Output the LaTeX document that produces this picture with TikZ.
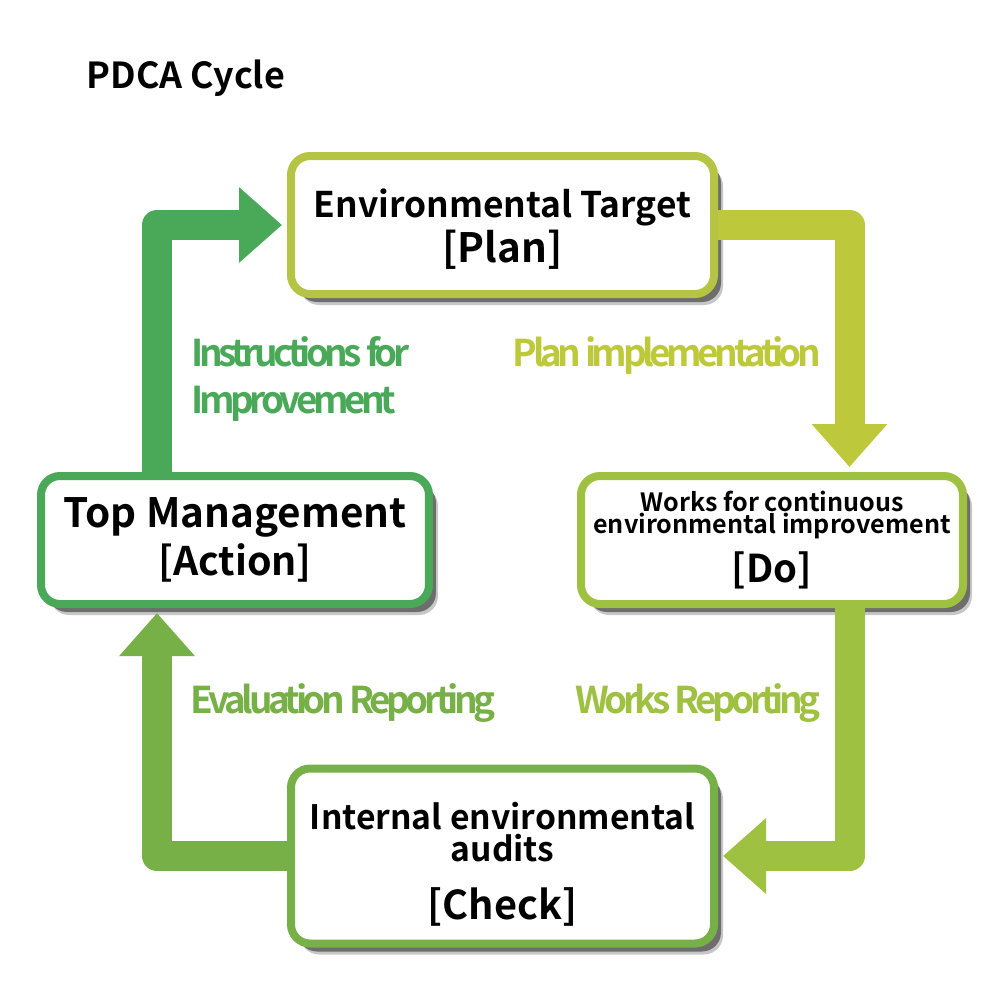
\documentclass[tikz,border=0pt]{standalone}
\usepackage{fontspec}
\setmainfont{Noto Sans CJK JP}[BoldFont={Noto Sans CJK JP Bold}]
\newfontfamily\tagfont{Noto Sans CJK JP Bold}[LetterSpace=-12]
\usetikzlibrary{arrows.meta,shadows}
\setlength{\lineskiplimit}{-5pt}
\definecolor{planline}{RGB}{181,196,66}
\definecolor{planarrow}{RGB}{189,201,58}
\definecolor{doline}{RGB}{158,193,66}
\definecolor{checkline}{RGB}{119,176,70}
\definecolor{actline}{RGB}{74,168,89}
\tikzstyle{box}=[rectangle, rounded corners=1.9mm, line width=0.8mm, fill=white, align=center, inner sep=0pt,
  drop shadow={shadow xshift=0.9mm, shadow yshift=-1.1mm, fill=black, opacity=0.22},
  drop shadow={shadow xshift=0.7mm, shadow yshift=-0.8mm, fill=black, opacity=0.45}]
\tikzstyle{flow}=[line width=3mm, line join=round, shorten >=0.5mm, -{Triangle[length=4.3mm, width=7.3mm]}]
\tikzstyle{tag}=[inner sep=0pt, font=\tagfont\fontsize{10.5}{13.6}\selectfont]

\begin{document}
\begin{tikzpicture}[x=0.1mm, y=-0.1mm]
	   \useasboundingbox (0,0) rectangle (1000,1000);
		   \begin{scope}
			   \node (8) at (86,88)[anchor=base west, inner sep=0pt, font=\bfseries\fontsize{10.2}{12}\selectfont] {PDCA Cycle};
			   \node (0) at (502.5,225)[box, draw=planline, minimum width=42.3mm, minimum height=13.8mm, font=\bfseries\fontsize{10.06}{12.8}\selectfont] {\rule{0pt}{10.3pt}Environmental Target\\\fontsize{11.5}{12.8}\selectfont [Plan]};
			   \node (1) at (772,540)[box, draw=doline, minimum width=38.2mm, minimum height=12.8mm, font=\bfseries\fontsize{7.15}{6.3}\selectfont] {Works for continuous\\environmental improvement\\[7.4pt]\fontsize{10.9}{6.3}\selectfont [Do]};
			   \node (2) at (502.5,856)[box, draw=checkline, minimum width=42.3mm, minimum height=17.5mm, font=\bfseries\fontsize{9.57}{9.1}\selectfont] {\rule{0pt}{12.3pt}Internal environmental\\audits\\[7.4pt]\fontsize{11.3}{9.1}\selectfont [Check]};
			   \node (3) at (235,540)[box, draw=actline, minimum width=38.8mm, minimum height=12.8mm, font=\bfseries\fontsize{11.5}{13.7}\selectfont] {Top Management\\\fontsize{11.2}{13.7}\selectfont [Action]};
			   \node (4) at (667,355)[tag, text=planarrow] {Plan implementation};
			   \node (5) at (698,703)[tag, text=doline] {Works Reporting};
			   \node (6) at (343,703)[tag, text=checkline] {Evaluation Reporting};
			   \node (7) at (191,379)[tag, text=actline, anchor=west, align=left] {Instructions for\\Improvement};
			   \coordinate (r) at (849.5,0);
			   \coordinate (l) at (157,0);
		   \end{scope}
		   \begin{scope}
			   \draw [flow, planarrow] (0.east) -| (r |- 1.north);
			   \draw [flow, doline] (r |- 1.south) |- (2.east);
			   \draw [flow, checkline] (2.west) -| (l |- 3.south);
			   \draw [flow, actline] (l |- 3.north) |- (0.west);
		   \end{scope}
	   \end{tikzpicture}
\end{document}
